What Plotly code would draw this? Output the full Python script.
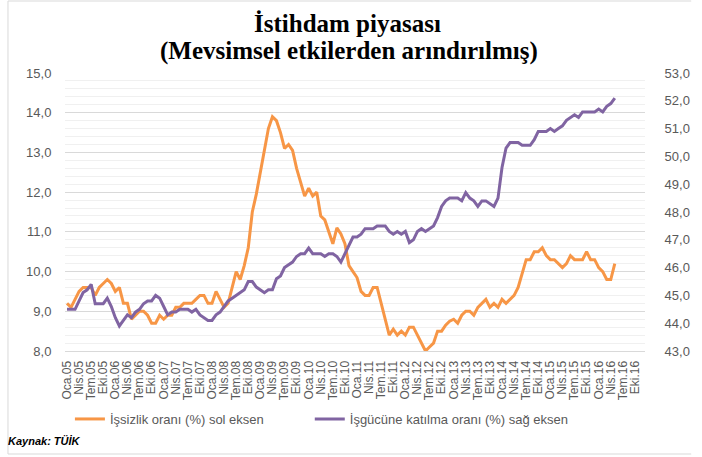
import plotly.graph_objects as go

month_names = ["Oca", "Şub", "Mar", "Nis", "May", "Haz", "Tem", "Ağu", "Eyl", "Eki", "Kas", "Ara"]
years = list(range(5, 17))
categories = [f"{m}.{y:02d}" for y in years for m in month_names]
tick_labels = categories[::3]

unemployment = [
    9.2, 9.1, 9.3, 9.5, 9.6, 9.6, 9.6, 9.4, 9.6, 9.7, 9.8, 9.7,
    9.5, 9.6, 9.2, 9.2, 8.8, 8.9, 9.0, 9.0, 8.9, 8.7, 8.7, 8.9,
    8.8, 8.9, 8.9, 9.1, 9.1, 9.2, 9.2, 9.2, 9.3, 9.4, 9.4, 9.2,
    9.2, 9.5, 9.3, 9.1, 9.2, 9.6, 10.0, 9.8, 10.15, 10.6, 11.5, 11.95,
    12.5, 13.0, 13.6, 13.9, 13.8, 13.5, 13.1, 13.2, 13.05, 12.6, 12.25, 11.9,
    12.1, 11.9, 12.0, 11.4, 11.3, 11.0, 10.7, 11.1, 10.95, 10.7, 10.15, 10.0,
    9.85, 9.5, 9.4, 9.4, 9.6, 9.6, 9.2, 8.85, 8.4, 8.55, 8.4, 8.5,
    8.4, 8.6, 8.6, 8.4, 8.2, 8.0, 8.1, 8.2, 8.5, 8.5, 8.65, 8.75,
    8.8, 8.7, 8.9, 9.0, 9.0, 8.9, 9.1, 9.2, 9.3, 9.1, 9.2, 9.1,
    9.3, 9.2, 9.3, 9.4, 9.6, 9.95, 10.3, 10.3, 10.5, 10.5, 10.6, 10.4,
    10.3, 10.3, 10.2, 10.1, 10.2, 10.4, 10.3, 10.3, 10.3, 10.5, 10.3, 10.3,
    10.1, 10.0, 9.8, 9.8, 10.2,
]

participation = [
    44.5, 44.5, 44.5, 44.8, 45.1, 45.2, 45.4, 44.7, 44.7, 44.7, 44.9, 44.6,
    44.2, 43.9, 44.1, 44.3, 44.2, 44.4, 44.5, 44.7, 44.8, 44.8, 45.0, 44.9,
    44.6, 44.3, 44.4, 44.4, 44.5, 44.5, 44.5, 44.4, 44.5, 44.3, 44.2, 44.1,
    44.1, 44.3, 44.4, 44.6, 44.8, 44.9, 45.0, 45.1, 45.2, 45.5, 45.5, 45.3,
    45.2, 45.1, 45.2, 45.2, 45.6, 45.7, 46.0, 46.1, 46.2, 46.4, 46.5, 46.5,
    46.7, 46.5, 46.5, 46.5, 46.4, 46.5, 46.5, 46.4, 46.2, 46.5, 46.8, 47.1,
    47.1, 47.2, 47.4, 47.4, 47.4, 47.5, 47.5, 47.5, 47.3, 47.2, 47.3, 47.2,
    47.3, 46.9, 47.0, 47.3, 47.4, 47.3, 47.4, 47.5, 47.8, 48.2, 48.4, 48.5,
    48.5, 48.5, 48.4, 48.7, 48.5, 48.4, 48.2, 48.4, 48.4, 48.3, 48.2, 48.5,
    49.6, 50.3, 50.5, 50.5, 50.5, 50.4, 50.4, 50.4, 50.6, 50.9, 50.9, 50.9,
    51.0, 50.9, 51.0, 51.1, 51.3, 51.4, 51.5, 51.4, 51.6, 51.6, 51.6, 51.6,
    51.7, 51.6, 51.8, 51.9, 52.1,
]

title_lines = ["İstihdam piyasası", "(Mevsimsel etkilerden arındırılmış)"]
source_text = "Kaynak: TÜİK"

W, H = 702, 457
L, R, T, B = 65, 47, 73, 106
pw, ph = W - L - R, H - T - B


def px(xp):
    return (xp - L) / pw


def py(yp):
    return (H - B - yp) / ph


fig = go.Figure()
fig.add_trace(go.Scatter(
    x=categories[:len(unemployment)], y=unemployment, mode="lines",
    name="İşsizlik oranı (%) sol eksen",
    line=dict(color="#F79646", width=3), yaxis="y", legend="legend",
))
fig.add_trace(go.Scatter(
    x=categories[:len(participation)], y=participation, mode="lines",
    name="İşgücüne katılma oranı (%) sağ eksen",
    line=dict(color="#8064A2", width=3), yaxis="y2", legend="legend2",
))

sans = "Liberation Sans, Arial, sans-serif"
serif = "Liberation Serif, DejaVu Serif, serif"
tick_font = dict(family=sans, size=13, color="#595959")
legend_font = dict(family=sans, size=13, color="#595959")
border = dict(color="#D9D9D9", width=1)

fig.update_layout(
    width=W, height=H,
    margin=dict(l=L, r=R, t=T, b=B),
    paper_bgcolor="white", plot_bgcolor="white",
    separators=",.",
    showlegend=True,
    xaxis=dict(
        type="category", categoryorder="array", categoryarray=categories,
        range=[-0.5, len(categories) - 0.5],
        tickmode="array", tickvals=tick_labels, ticktext=tick_labels,
        tickangle=-90, tickfont=dict(family=sans, size=12, color="#595959"),
        showgrid=False, zeroline=False,
        showline=True, linecolor="#D9D9D9", linewidth=1,
        ticks="outside", ticklen=4, tickcolor="rgba(0,0,0,0)",
    ),
    yaxis=dict(
        range=[8, 15], dtick=1, tick0=8, tickformat=".1f",
        tickfont=tick_font,
        showgrid=True, gridcolor="#D9D9D9", gridwidth=1,
        minor=dict(dtick=0.2, showgrid=True, gridcolor="#F0F0F0", gridwidth=1),
        zeroline=False, showline=False,
        ticks="outside", ticklen=10, tickcolor="rgba(0,0,0,0)",
    ),
    yaxis2=dict(
        range=[43, 53], dtick=1, tick0=43, tickformat=".1f",
        overlaying="y", side="right",
        tickfont=tick_font,
        showgrid=False, zeroline=False, showline=False,
        ticks="outside", ticklen=16, tickcolor="rgba(0,0,0,0)",
    ),
    legend=dict(
        orientation="h", x=px(70), xanchor="left", y=py(419), yanchor="middle",
        font=legend_font, bgcolor="rgba(0,0,0,0)",
    ),
    legend2=dict(
        orientation="h", x=px(314), xanchor="left", y=py(419), yanchor="middle",
        font=legend_font, bgcolor="rgba(0,0,0,0)",
    ),
    annotations=[
        dict(
            text=f"<b>{title_lines[0]}</b>", xref="paper", yref="paper",
            x=px(352), y=py(23), xanchor="center", yanchor="middle", showarrow=False,
            font=dict(family=serif, size=25, color="#000000"),
        ),
        dict(
            text=f"<b>{title_lines[1]}</b>", xref="paper", yref="paper",
            x=px(354), y=py(51), xanchor="center", yanchor="middle", showarrow=False,
            font=dict(family=serif, size=25, color="#000000"),
        ),
        dict(
            text=f"<b><i>{source_text}</i></b>", xref="paper", yref="paper",
            x=px(5), y=py(441), xanchor="left", yanchor="middle", showarrow=False,
            font=dict(family=sans, size=11, color="#000000"),
        ),
    ],
    shapes=[
        dict(type="line", xref="paper", yref="paper", x0=px(7), x1=px(7), y0=py(454), y1=py(1), line=border, layer="below"),
        dict(type="line", xref="paper", yref="paper", x0=px(7), x1=px(702), y0=py(1), y1=py(1), line=border, layer="below"),
        dict(type="line", xref="paper", yref="paper", x0=px(7), x1=px(702), y0=py(454), y1=py(454), line=border, layer="below"),
    ],
)

fig.write_html(
    "out.html",
    config={"displayModeBar": False},
    post_script="document.body.style.margin='0px';document.body.style.overflow='hidden';",
)
